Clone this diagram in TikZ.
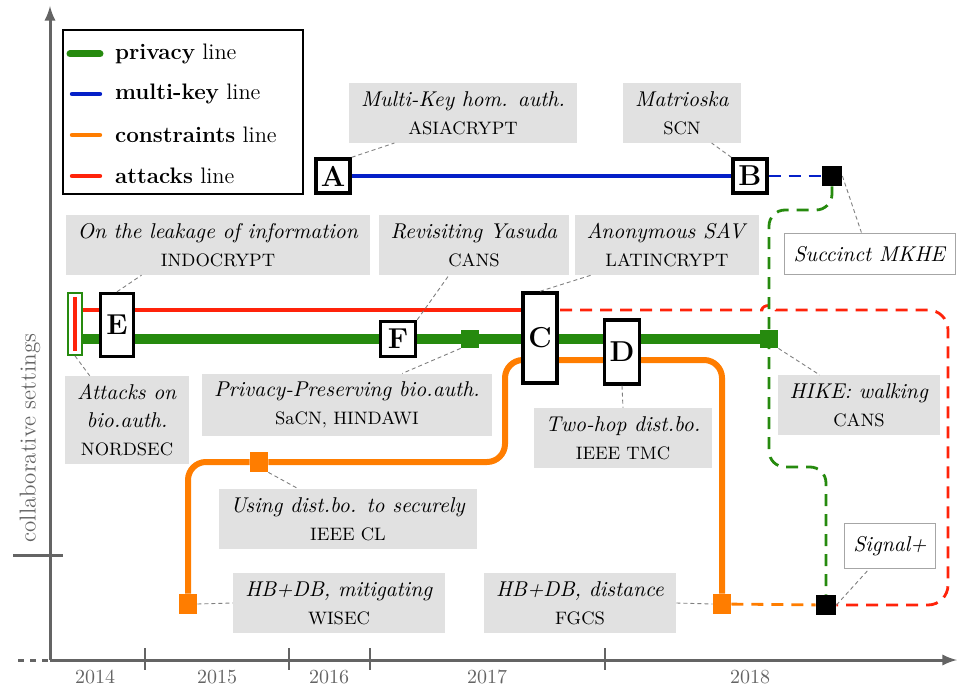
\documentclass[tikz,border=0pt]{standalone}
\usepackage{tikz}
\usetikzlibrary{arrows,backgrounds,calc}
\definecolor{privgreen}{RGB}{38,138,14}
\definecolor{mkblue}{RGB}{5,32,200}
\definecolor{conorange}{RGB}{255,125,0}
\definecolor{atkred}{RGB}{255,35,10}
\definecolor{labelgray}{RGB}{225,225,225}
\definecolor{axisgray}{RGB}{100,100,100}
\tikzset{
  station/.style={draw=black, fill=white, line width=1.7pt, inner sep=0pt, font=\Large\bfseries},
  paper/.style={fill=labelgray, align=center, inner xsep=6pt, inner ysep=4pt, font=\fontsize{10.7pt}{14pt}\selectfont},
  paperw/.style={draw=gray!70, fill=white, line width=0.7pt, inner xsep=4.5pt, inner ysep=6.5pt, font=\fontsize{10.7pt}{14pt}\selectfont},
  link/.style={gray, dashed, line width=0.45pt, dash pattern=on 2pt off 1.5pt},
  privline/.style={privgreen, line width=4.5pt},
  mkline/.style={mkblue, line width=2pt},
  conline/.style={conorange, line width=3pt},
  atkline/.style={atkred, line width=2pt},
  dashline/.style={line width=1.4pt, dash pattern=on 6pt off 4pt},
  blacksq/.style={fill=black, minimum size=10pt, inner sep=0pt},
  privsq/.style={fill=privgreen, minimum size=9pt, inner sep=0pt},
  consq/.style={fill=conorange, minimum width=9pt, minimum height=10pt, inner sep=0pt},
  axis/.style={axisgray, line width=1.5pt},
  year/.style={text=axisgray},
  legendtxt/.style={right, font=\fontsize{11.2pt}{13pt}\selectfont}
}
\begin{document}
\begin{tikzpicture}[x=0.5pt, y=-0.5pt]
\useasboundingbox (0,0) rectangle (957,689);

% axes
\draw[axis, -latex] (50,660) -- (50,6);
\draw[axis, -latex] (50,660) -- (957,660);
\draw[axis, dashed] (18,660) -- (48,660);
\draw[axis] (13,555) -- (63,555);
\foreach \tx in {145,289,370,605}
  \draw[axisgray, line width=0.6pt] (\tx,648) -- (\tx,670);
\node[rotate=90, text=axisgray, font=\fontsize{11.5pt}{13pt}\selectfont] (collab) at (30,438) {collaborative settings};
\node[year] (y2014) at (95,677) {2014};
\node[year] (y2015) at (217,677) {2015};
\node[year] (y2016) at (329,677) {2016};
\node[year] (y2017) at (487,677) {2017};
\node[year] (y2018) at (750,677) {2018};

% legend
\draw[line width=0.7pt] (63,30) rectangle (303,194);
\draw[privgreen, line width=3.5pt, line cap=round] (70,54) -- (100,54);
\draw[mkblue, line width=2.2pt, line cap=round] (72,94) -- (100,94);
\draw[conorange, line width=2.2pt, line cap=round] (72,135) -- (100,135);
\draw[atkred, line width=2.2pt, line cap=round] (72,176) -- (100,176);
\node[legendtxt] (lgPriv) at (108,54) {\textbf{privacy} line};
\node[legendtxt] (lgMk) at (108,94) {\textbf{multi-key} line};
\node[legendtxt] (lgCon) at (108,135) {\textbf{constraints} line};
\node[legendtxt] (lgAtk) at (108,176) {\textbf{attacks} line};

% stations
\node[station, minimum size=17pt] (A) at (333,176) {A};
\node[station, minimum size=17pt] (B) at (750,176) {B};
\node[station, minimum width=16.5pt, minimum height=31.5pt] (E) at (117,325) {E};
\node[station, minimum size=17.5pt] (F) at (398,339) {F};
\node[station, minimum width=17pt, minimum height=45pt] (C) at (540,338) {C};
\node[station, minimum width=17.5pt, minimum height=32pt] (D) at (622,352) {D};
\node[blacksq] (mkhe) at (832,176) {};
\node[blacksq] (sig) at (826,605) {};
\node[privsq] (ppba) at (470,339) {};
\node[privsq] (hike) at (769,339) {};
\node[consq] (usd) at (259,462) {};
\node[consq] (hbm) at (188,604) {};
\node[consq] (hbd) at (722,604) {};
\node[draw=privgreen, fill=white, line width=0.9pt, minimum width=7pt, minimum height=31pt, inner sep=0pt,
  path picture={\fill[atkred] ([xshift=-1.1pt,yshift=2pt]path picture bounding box.south) rectangle ([xshift=1.1pt,yshift=-2pt]path picture bounding box.north);}]
  (atk) at (75,324) {};

% papers
\node[paper] (pA) at (463,113) {\textit{Multi-Key hom. auth.}\\\small ASIACRYPT};
\node[paper] (pB) at (682,113) {\textit{Matrioska}\\\small SCN};
\node[paperw] (pMKHE) at (870,254) {\textit{Succinct MKHE}};
\node[paper] (pE) at (218,245) {\textit{On the leakage of information}\\\small INDOCRYPT};
\node[paper] (pF) at (474,245) {\textit{Revisiting Yasuda}\\\small CANS};
\node[paper] (pC) at (667,245) {\textit{Anonymous SAV}\\\small LATINCRYPT};
\node[paper] (pAtk) at (127,420) {\textit{Attacks on}\\\textit{bio.auth.}\\\small NORDSEC};
\node[paper] (pPP) at (347,405) {\textit{Privacy-Preserving bio.auth.}\\\small SaCN, HINDAWI};
\node[paper] (pD) at (623,438) {\textit{Two-hop dist.bo.}\\\small IEEE TMC};
\node[paper] (pH) at (859,405) {\textit{HIKE: walking}\\\small CANS};
\node[paper] (pU) at (348,519) {\textit{Using dist.bo. to securely}\\\small IEEE CL};
\node[paper] (pHBM) at (339,603) {\textit{HB+DB, mitigating}\\\small WISEC};
\node[paper] (pHBD) at (580,603) {\textit{HB+DB, distance}\\\small FGCS};
\node[paperw] (pSig) at (890,546) {\textit{Signal+}};

% links
\draw[link] (A.north east) -- ($(pA.south west)!0.2!(pA.south east)$);
\draw[link] (B.north west) -- ($(pB.south west)!0.75!(pB.south east)$);
\draw[link] (mkhe.east) -- ($(pMKHE.north west)!0.45!(pMKHE.north east)$);
\draw[link] (E.north) -- ($(pE.south west)!0.25!(pE.south east)$);
\draw[link] (F.north east) -- ($(pF.south west)!0.37!(pF.south east)$);
\draw[link] (C.north) -- ($(pC.south west)!0.09!(pC.south east)$);
\draw[link] (atk.south) -- ($(pAtk.north west)!0.2!(pAtk.north east)$);
\draw[link] (ppba.south west) -- ($(pPP.north west)!0.69!(pPP.north east)$);
\draw[link] (D.south) -- (pD.north);
\draw[link] (hike.south east) -- ($(pH.north west)!0.26!(pH.north east)$);
\draw[link] (usd.south east) -- ($(pU.north west)!0.31!(pU.north east)$);
\draw[link] (hbm.east) -- (pHBM.west);
\draw[link] (pHBD.east) -- (hbd.west);
\draw[link] (sig.east) -- ($(pSig.south west)!0.27!(pSig.south east)$);

% lines
\begin{pgfonlayer}{background}
\draw[mkline] (A) -- (B);
\draw[mkline, dashline] (B) -- (mkhe);
\draw[atkline] (atk.east |- 0,310) -- (C |- 0,310);
\draw[atkline, dashline] (C |- 0,310) -- (762,310) .. controls (762,304) and (776,304) .. (776,310)
  [rounded corners=10pt] -- (948,310) |- (sig);
\draw[privline] (atk.east |- 0,339) -- (hike);
\draw[conline, rounded corners=9pt] (hbm) |- (usd) -- (505,462) |- (722,360) -- (hbd);
\draw[conline, dashline] (hbd) -- (sig);
\draw[privgreen, dashline, rounded corners=8pt] (mkhe) |- (769,210) |- (826,467) -- (sig);
\end{pgfonlayer}
\end{tikzpicture}
\end{document}
